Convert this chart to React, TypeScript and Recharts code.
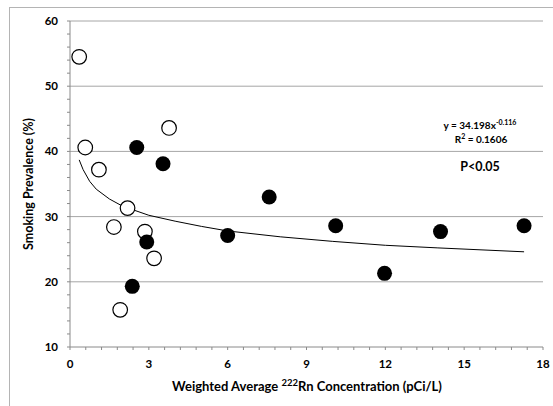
import { ScatterChart, Scatter, XAxis, YAxis, CartesianGrid, Customized } from "recharts";

// open circles
const openX = [0.35, 0.58, 1.1, 2.19, 1.67, 2.85, 3.2, 1.91, 3.77];
const openY = [54.5, 40.6, 37.2, 31.3, 28.4, 27.7, 23.6, 15.7, 43.6];
// filled circles
const filledX = [2.54, 3.54, 7.58, 6.0, 2.92, 2.37, 10.11, 11.97, 14.1, 17.28];
const filledY = [40.6, 38.1, 33.0, 27.1, 26.1, 19.3, 28.6, 21.3, 27.7, 28.6];
// power trendline
const trendX = [0.35, 0.5, 0.75, 1, 1.5, 2, 3, 4, 5, 6, 8, 10, 12, 14, 17.28];
const trendY = [38.7, 37.2, 35.4, 34.2, 32.7, 31.6, 30.2, 29.3, 28.5, 27.8, 26.9, 26.2, 25.6, 25.2, 24.6];

const xTicks = [0, 0.6, 1.2, 1.8, 2.4, 3, 3.6, 4.2, 4.8, 5.4, 6, 6.6, 7.2, 7.8, 8.4, 9, 9.6, 10.2, 10.8, 11.4, 12, 12.6, 13.2, 13.8, 14.4, 15, 15.6, 16.2, 16.8, 17.4, 18];
const xLabels = [0, 3, 6, 9, 12, 15, 18];
const yTicks = [10, 12, 14, 16, 18, 20, 22, 24, 26, 28, 30, 32, 34, 36, 38, 40, 42, 44, 46, 48, 50, 52, 54, 56, 58, 60];
const yLabels = [10, 20, 30, 40, 50, 60];

const openData = openX.map((x, i) => ({ x, y: openY[i] }));
const filledData = filledX.map((x, i) => ({ x, y: filledY[i] }));
const trendData = trendX.map((x, i) => ({ x, y: trendY[i] }));

const FONT = "Lato, 'Liberation Sans', sans-serif";
const AXIS = "#8a8a8a";

const Annotations = () => (
  <g fontFamily={FONT} fontWeight="bold" fill="#000">
    <text x={480} y={129} fontSize={10} textAnchor="middle">
      y = 34.198x<tspan fontSize={7} dy={-4}>-0.116</tspan>
    </text>
    <text x={481} y={143} fontSize={10} textAnchor="middle">
      R<tspan fontSize={7} dy={-4}>2</tspan><tspan dy={4}> = 0.1606</tspan>
    </text>
    <text x={480} y={171} fontSize={12.5} textAnchor="middle">P&lt;0.05</text>
    <text x={33} y={184} fontSize={12.5} textAnchor="middle" transform="rotate(-90 33 184)">
      Smoking Prevalence (%)
    </text>
    <text x={307} y={391} fontSize={13} textAnchor="middle">
      Weighted Average <tspan fontSize={9.5} dy={-5}>222</tspan><tspan dy={5}>Rn Concentration (pCi/L)</tspan>
    </text>
  </g>
);

const openShape = (p: any) => (
  <circle cx={p.cx} cy={p.cy} r={7.3} fill="#fff" stroke="#000" strokeWidth={1.2} />
);
const filledShape = (p: any) => <circle cx={p.cx} cy={p.cy} r={7.5} fill="#000" />;
const noShape = () => <g />;

export default function App() {
  return (
    <div style={{ position: "absolute", left: 0, top: 0, width: 553, height: 406, overflow: "hidden", background: "#fff" }}>
      <div style={{ position: "absolute", left: 9, top: 7, width: 600, height: 500, border: "1px solid #b4b4b4" }} />
      <div style={{ position: "absolute", left: 0, top: 0 }}>
        <ScatterChart width={553} height={406} margin={{ top: 21, right: 10, bottom: 0, left: 10 }}>
          <CartesianGrid vertical={false} stroke="#a6a6a6" horizontalValues={[20, 30, 40, 50, 60]} />
          <XAxis
            type="number"
            dataKey="x"
            domain={[0, 18]}
            ticks={xTicks}
            interval={0}
            height={59}
            stroke={AXIS}
            tickSize={3}
            tickMargin={10}
            tickFormatter={(v: number) => (xLabels.includes(v) ? String(v) : "")}
            tick={{ fill: "#000", fontSize: 11.5, fontWeight: "bold", fontFamily: FONT }}
          />
          <YAxis
            type="number"
            dataKey="y"
            domain={[10, 60]}
            ticks={yTicks}
            interval={0}
            width={60}
            stroke={AXIS}
            tickSize={3}
            tickMargin={9}
            tickFormatter={(v: number) => (yLabels.includes(v) ? String(v) : "")}
            tick={{ fill: "#000", fontSize: 11.5, fontWeight: "bold", fontFamily: FONT }}
          />
          <Scatter data={trendData} line={{ stroke: "#000", strokeWidth: 1 }} lineType="joint" shape={noShape} isAnimationActive={false} />
          <Scatter data={openData} shape={openShape} isAnimationActive={false} />
          <Scatter data={filledData} shape={filledShape} isAnimationActive={false} />
          <Customized component={Annotations} />
        </ScatterChart>
      </div>
    </div>
  );
}
